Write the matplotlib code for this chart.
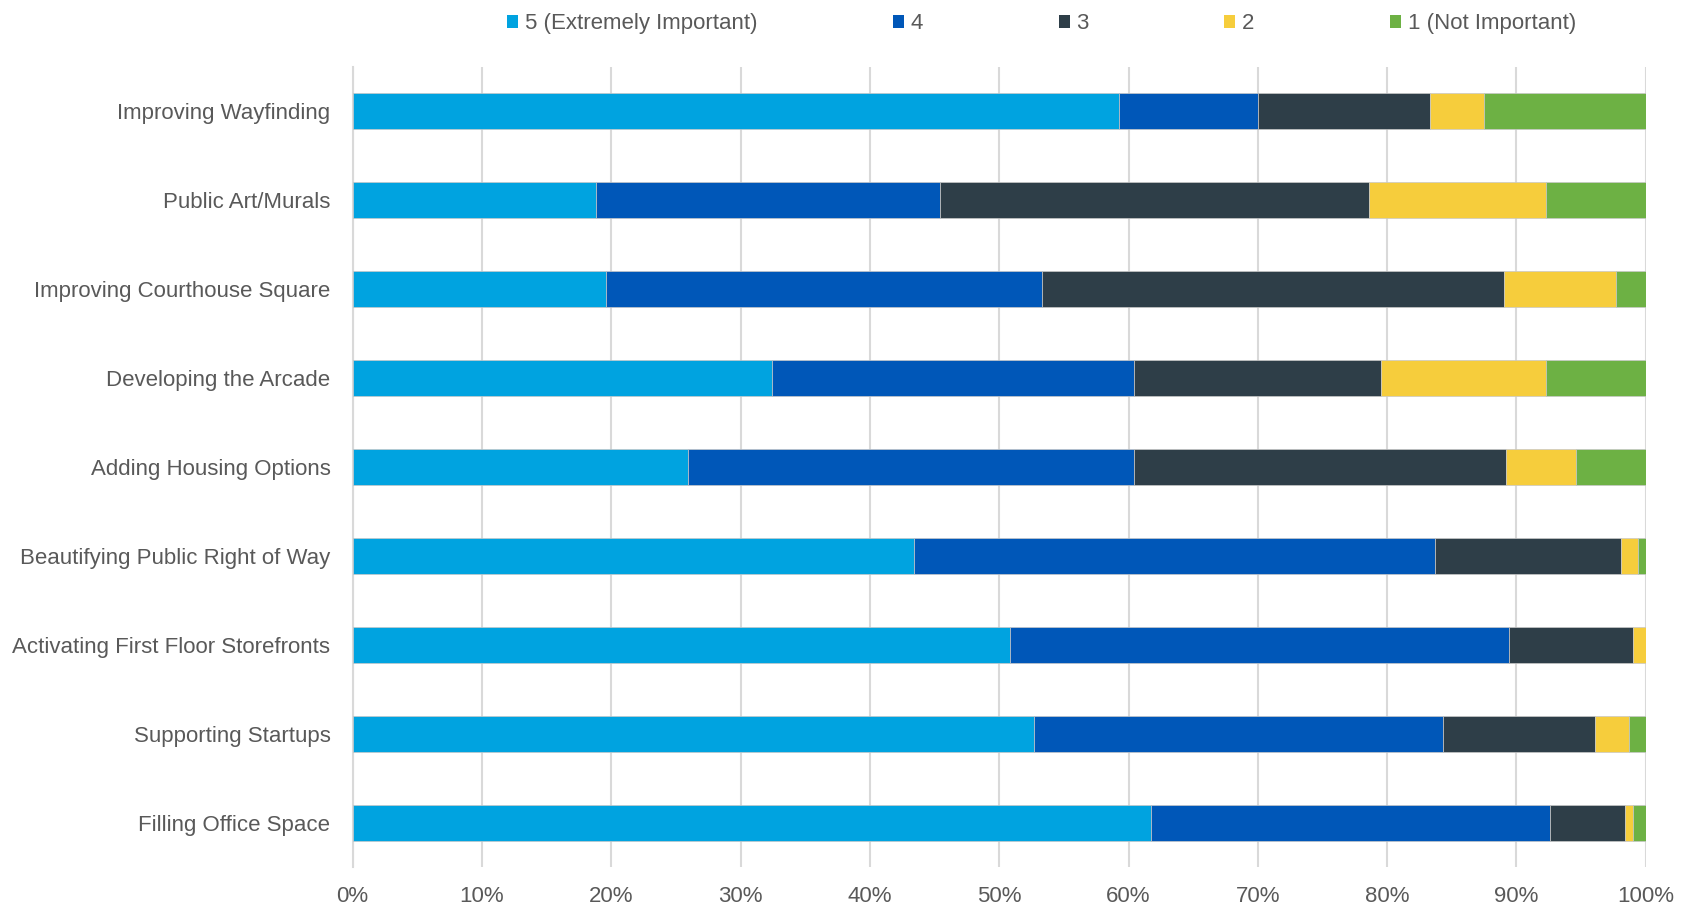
import matplotlib.pyplot as plt
import numpy as np
from matplotlib.patches import Patch
from matplotlib.ticker import PercentFormatter

plt.rcParams['font.family'] = ['Liberation Sans', 'DejaVu Sans']

categories = [
    "Improving Wayfinding",
    "Public Art/Murals",
    "Improving Courthouse Square",
    "Developing the Arcade",
    "Adding Housing Options",
    "Beautifying Public Right of Way",
    "Activating First Floor Storefronts",
    "Supporting Startups",
    "Filling Office Space",
]

series_names = ["5 (Extremely Important)", "4", "3", "2", "1 (Not Important)"]

# shares in percent
rating5 = [59.3, 18.8, 19.6, 32.4, 25.9, 43.4, 50.8, 52.7, 61.7]
rating4 = [10.7, 26.6, 33.7, 28.0, 34.5, 40.3, 38.6, 31.6, 30.9]
rating3 = [13.3, 33.2, 35.7, 19.1, 28.8, 14.4, 9.6, 11.8, 5.8]
rating2 = [4.2, 13.7, 8.7, 12.8, 5.4, 1.3, 1.0, 2.6, 0.6]
rating1 = [12.5, 7.7, 2.3, 7.7, 5.4, 0.6, 0.0, 1.3, 1.0]

colors = ["#00A3E0", "#0057B8", "#2E3E48", "#F6CD3C", "#6DB144"]
text_color = "#595959"

fig = plt.figure(figsize=(16.89, 9.09), dpi=100)
ax = fig.add_axes([0.2088, 0.0457, 0.7656, 0.8811])

y = np.arange(len(categories))
left = np.zeros(len(categories))
for name, vals, col in zip(series_names, [rating5, rating4, rating3, rating2, rating1], colors):
    vals = np.array(vals)
    ax.barh(y, vals, left=left, height=0.4, color=col, label=name,
            edgecolor="#C8C8C8", linewidth=0.5, zorder=3)
    left += vals

ax.set_ylim(len(categories) - 0.5, -0.5)
ax.set_xlim(0, 100)
ax.set_xticks(np.arange(0, 101, 10))
ax.xaxis.set_major_formatter(PercentFormatter(decimals=0))
ax.set_yticks(y)
ax.set_yticklabels(categories)

ax.grid(axis="x", color="#D9D9D9", linewidth=1.5, zorder=0)
for s in ["top", "right", "bottom"]:
    ax.spines[s].set_visible(False)
ax.spines["left"].set_color("#D9D9D9")
ax.spines["left"].set_linewidth(1.5)

ax.tick_params(axis="x", length=0, pad=13.5, labelsize=16, labelcolor=text_color)
ax.tick_params(axis="y", length=0, pad=16, labelsize=16, labelcolor=text_color)

handles = [Patch(facecolor=c) for c in colors]
fig.legend(handles, series_names, loc="center left",
           bbox_to_anchor=(507 / 1689, 0.9740), bbox_transform=fig.transFigure,
           ncol=5, frameon=False, fontsize=16, labelcolor=text_color,
           handlelength=0.5, handleheight=0.5, handletextpad=0.3,
           columnspacing=6.1, borderpad=0, borderaxespad=0)

fig.savefig("out.png", dpi=100)
